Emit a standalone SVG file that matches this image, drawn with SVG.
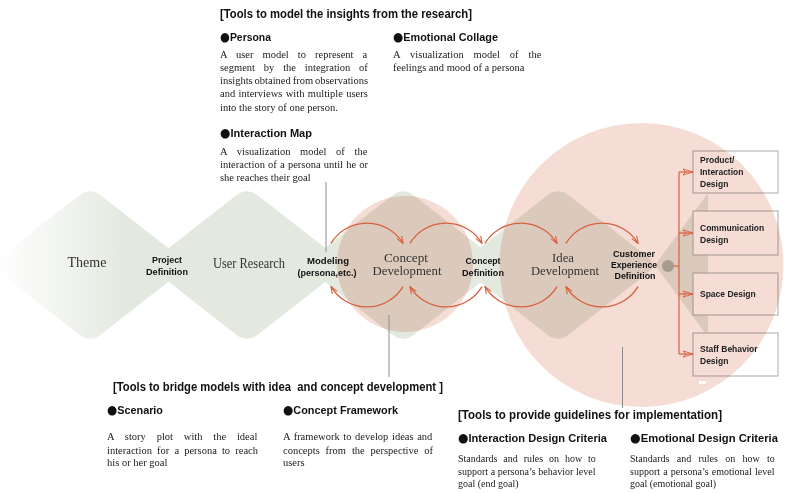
<svg xmlns="http://www.w3.org/2000/svg" width="786" height="493" viewBox="0 0 786 493">
<defs>
<linearGradient id="g1" x1="0" y1="0" x2="1" y2="0">
<stop offset="0" stop-color="#ffffff"/>
<stop offset="0.7" stop-color="#e4e9e0"/>
</linearGradient>
<path id="dia" d="M -11,-69.4 Q 0,-78 11,-69.4 L 89,-8.6 Q 100,0 89,8.6 L 11,69.4 Q 0,78 -11,69.4 L -89,8.6 Q -100,0 -89,-8.6 Z"/>
<marker id="ah" viewBox="0 0 10 8" refX="9.5" refY="4" markerWidth="8" markerHeight="6.4" markerUnits="userSpaceOnUse" orient="auto">
<path d="M0.5,0.5 L9.5,4 L0.5,7.5" fill="none" stroke="#d9603f" stroke-width="1.4"/>
</marker>
<marker id="ah2" viewBox="0 0 12 8" refX="11" refY="4" markerWidth="11" markerHeight="7.3" markerUnits="userSpaceOnUse" orient="auto">
<path d="M0,0.6 L11,4 L0,7.4 L3,4 z" fill="none" stroke="#d9603f" stroke-width="1"/>
</marker>
</defs>
<style>
.dia{fill:#e4e9e0}
.pink{fill:#f5ddd5;mix-blend-mode:multiply}
.h{font-family:"Liberation Sans",Arial,sans-serif;font-weight:bold;fill:#111}
.hd{font-size:12px}
.st{font-size:11.5px}
.bu{font-family:"DejaVu Sans",sans-serif;font-size:12.5px}
.b{font-family:"Liberation Serif","Times New Roman",serif;font-size:10.5px;fill:#1a1a1a}
.b10{font-size:10px}
.sl{font-family:"Liberation Serif","Times New Roman",serif;fill:#333;text-anchor:middle}
.bl{font-family:"Liberation Sans",Arial,sans-serif;font-weight:bold;font-size:9px;fill:#111;text-anchor:middle}
.bx{font-family:"Liberation Sans",Arial,sans-serif;font-weight:bold;font-size:8.5px;fill:#222}
.arc{fill:none;stroke:#d9603f;stroke-width:1.3}
.rl{fill:none;stroke:#d9603f;stroke-width:1.2}
.gl{stroke:#8c8c8c;stroke-width:1}
.box{fill:#ffffff;stroke:#aaaaaa;stroke-width:1}
</style>

<g id="background-shapes">
<path class="dia" d="M 655,265 L 708,193 L 708,337 Z"/>
<use href="#dia" transform="translate(558,265)" class="dia"/>
<use href="#dia" transform="translate(403,265)" class="dia"/>
<use href="#dia" transform="translate(247,265)" class="dia"/>
<use href="#dia" transform="translate(90,265)" fill="url(#g1)"/>
</g>

<g id="box-product"><rect class="box" x="693" y="151" width="85" height="42"/></g>
<g id="box-communication"><rect class="box" x="693" y="211" width="85" height="44"/></g>
<g id="box-space"><rect class="box" x="693" y="273" width="85" height="42"/></g>
<g id="box-staff"><rect class="box" x="693" y="333" width="85" height="43"/></g>

<g id="circles">
<circle class="pink" cx="405" cy="264" r="68"/>
<circle class="pink" cx="641.5" cy="265" r="142"/>
</g>
<rect x="699" y="381" width="7" height="3" fill="#ffffff"/>

<g id="connectors">
<path class="arc" marker-end="url(#ah)" d="M 331,243.4 A 42 42 0 0 1 403,243.4"/>
<path class="arc" marker-end="url(#ah)" d="M 403,286.6 A 42 42 0 0 1 331,286.6"/>
<path class="arc" marker-end="url(#ah)" d="M 410,243.4 A 42 42 0 0 1 482,243.4"/>
<path class="arc" marker-end="url(#ah)" d="M 482,286.6 A 42 42 0 0 1 410,286.6"/>
<path class="arc" marker-end="url(#ah)" d="M 485,243.4 A 42 42 0 0 1 557,243.4"/>
<path class="arc" marker-end="url(#ah)" d="M 557,286.6 A 42 42 0 0 1 485,286.6"/>
<path class="arc" marker-end="url(#ah)" d="M 566,243.4 A 42 42 0 0 1 638,243.4"/>
<path class="arc" marker-end="url(#ah)" d="M 638,286.6 A 42 42 0 0 1 566,286.6"/>
<circle cx="668" cy="266" r="6" fill="#a99b92"/>
<line class="rl" x1="674" y1="266" x2="679" y2="266"/>
<line class="rl" x1="679" y1="172" x2="679" y2="354"/>
<line class="rl" marker-end="url(#ah2)" x1="679" y1="172" x2="693" y2="172"/>
<line class="rl" marker-end="url(#ah2)" x1="679" y1="233" x2="693" y2="233"/>
<line class="rl" marker-end="url(#ah2)" x1="679" y1="294" x2="693" y2="294"/>
<line class="rl" marker-end="url(#ah2)" x1="679" y1="354" x2="693" y2="354"/>
<line class="gl" x1="326" y1="182" x2="326" y2="252"/>
<line class="gl" x1="389" y1="315" x2="389" y2="377"/>
<line class="gl" x1="622.5" y1="347" x2="622.5" y2="408"/>
</g>

<g id="stage-theme"><text class="sl" x="87" y="267" font-size="14">Theme</text></g>
<g id="stage-project-definition"><text class="bl" x="167" y="263" textLength="30" lengthAdjust="spacingAndGlyphs">Project</text><text class="bl" x="167" y="275" textLength="42" lengthAdjust="spacingAndGlyphs">Definition</text></g>
<g id="stage-user-research"><text class="sl" x="249" y="268" font-size="14" textLength="72" lengthAdjust="spacingAndGlyphs">User Research</text></g>
<g id="stage-modeling"><text class="bl" x="328" y="264" textLength="42" lengthAdjust="spacingAndGlyphs">Modeling</text><text class="bl" x="327" y="276" textLength="59" lengthAdjust="spacingAndGlyphs">(persona,etc.)</text></g>
<g id="stage-concept-development"><text class="sl" x="406" y="262" font-size="12.5" textLength="44" lengthAdjust="spacingAndGlyphs">Concept</text><text class="sl" x="407" y="275" font-size="12.5" textLength="69" lengthAdjust="spacingAndGlyphs">Development</text></g>
<g id="stage-concept-definition"><text class="bl" x="483" y="264" textLength="35" lengthAdjust="spacingAndGlyphs">Concept</text><text class="bl" x="483" y="276" textLength="42" lengthAdjust="spacingAndGlyphs">Definition</text></g>
<g id="stage-idea-development"><text class="sl" x="563" y="262" font-size="12.5" textLength="22" lengthAdjust="spacingAndGlyphs">Idea</text><text class="sl" x="565" y="275" font-size="12.5" textLength="68" lengthAdjust="spacingAndGlyphs">Development</text></g>
<g id="stage-cx-definition"><text class="bl" x="634" y="257" textLength="42" lengthAdjust="spacingAndGlyphs">Customer</text><text class="bl" x="634" y="268" textLength="46" lengthAdjust="spacingAndGlyphs">Experience</text><text class="bl" x="635" y="279" textLength="41" lengthAdjust="spacingAndGlyphs">Definition</text></g>

<g id="label-product"><text class="bx" x="700" y="163">Product/</text><text class="bx" x="700" y="175">Interaction</text><text class="bx" x="700" y="187">Design</text></g>
<g id="label-communication"><text class="bx" x="700" y="231">Communication</text><text class="bx" x="700" y="243">Design</text></g>
<g id="label-space"><text class="bx" x="700" y="297">Space Design</text></g>
<g id="label-staff"><text class="bx" x="700" y="352">Staff Behavior</text><text class="bx" x="700" y="364">Design</text></g>

<g id="tools-model">
<text class="h hd" x="220" y="18" textLength="252" lengthAdjust="spacingAndGlyphs">[Tools to model the insights from the research]</text>
<text class="h st" x="220" y="41" textLength="51" lengthAdjust="spacingAndGlyphs"><tspan class="bu">●</tspan>Persona</text>
<text class="b" x="220" y="57.5" word-spacing="6.4">A user model to represent a</text>
<text class="b" x="220" y="70.7" word-spacing="6.2">segment by the integration of</text>
<text class="b" x="220" y="84" word-spacing="-0.7">insights obtained from observations</text>
<text class="b" x="220" y="97.2" word-spacing="0.8">and interviews with multiple users</text>
<text class="b" x="220" y="110.5">into the story of one person.</text>
<text class="h st" x="220" y="137" textLength="92" lengthAdjust="spacingAndGlyphs"><tspan class="bu">●</tspan>Interaction Map</text>
<text class="b" x="220" y="155" word-spacing="7.1">A visualization model of the</text>
<text class="b" x="220" y="168" word-spacing="0.57">interaction of a persona until he or</text>
<text class="b" x="220" y="181">she reaches their goal</text>
<text class="h st" x="393" y="41" textLength="105" lengthAdjust="spacingAndGlyphs"><tspan class="bu">●</tspan>Emotional Collage</text>
<text class="b" x="393" y="57.5" word-spacing="7.35">A visualization model of the</text>
<text class="b" x="393" y="70.7">feelings and mood of a persona</text>
</g>

<g id="tools-bridge">
<text class="h hd" x="113" y="391" textLength="330" lengthAdjust="spacingAndGlyphs" style="white-space:pre">[Tools to bridge models with idea  and concept development ]</text>
<text class="h st" x="107" y="414" textLength="56" lengthAdjust="spacingAndGlyphs"><tspan class="bu">●</tspan>Scenario</text>
<text class="b" x="107" y="440" word-spacing="8.2">A story plot with the ideal</text>
<text class="b" x="107" y="453.5" word-spacing="2.5">interaction for a persona to reach</text>
<text class="b" x="107" y="466">his or her goal</text>
<text class="h st" x="283" y="414" textLength="115" lengthAdjust="spacingAndGlyphs"><tspan class="bu">●</tspan>Concept Framework</text>
<text class="b" x="283" y="440" word-spacing="1.0">A framework to develop ideas and</text>
<text class="b" x="283" y="453.5" word-spacing="3.25">concepts from the perspective of</text>
<text class="b" x="283" y="466">users</text>
</g>

<g id="tools-guidelines">
<text class="h hd" x="458" y="419" textLength="264" lengthAdjust="spacingAndGlyphs">[Tools to provide guidelines for implementation]</text>
<text class="h st" x="458" y="442" textLength="149" lengthAdjust="spacingAndGlyphs"><tspan class="bu">●</tspan>Interaction Design Criteria</text>
<text class="b b10" x="458" y="461.5" word-spacing="3.4">Standards and rules on how to</text>
<text class="b b10" x="458" y="474.5" word-spacing="0.2">support a persona’s behavior level</text>
<text class="b b10" x="458" y="487">goal (end goal)</text>
<text class="h st" x="630" y="442" textLength="148" lengthAdjust="spacingAndGlyphs"><tspan class="bu">●</tspan>Emotional Design Criteria</text>
<text class="b b10" x="630" y="461.5" word-spacing="4.8">Standards and rules on how to</text>
<text class="b b10" x="630" y="474.5" word-spacing="0.7">support a persona’s emotional level</text>
<text class="b b10" x="630" y="487">goal (emotional goal)</text>
</g>
</svg>
